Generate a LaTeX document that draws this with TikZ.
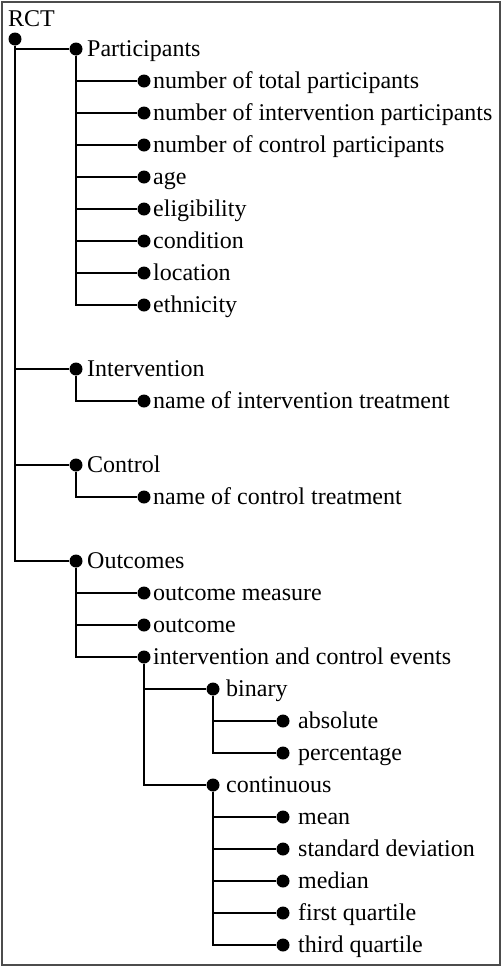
\documentclass[tikz,border=0pt]{standalone}
\usepackage{fontspec}
\setmainfont{Liberation Serif}
\usetikzlibrary{positioning}

\tikzset{
  dot/.style={circle, fill, inner sep=0pt, minimum size=13pt, on grid},
  lbl/.style={inner sep=0pt, anchor=base west, font=\fontsize{24}{28}\selectfont},
  txt/.style={lbl, yshift=-7pt},
  branch/.style={line width=2.8pt},
}

\begin{document}
\begin{tikzpicture}
\draw[gray!60!black, line width=2pt, fill=white] (2pt,-2pt) rectangle (500pt,-965pt);
\useasboundingbox (0,0) rectangle (502pt,-967pt);

% root
\node[dot] (root) at (15pt,-39pt) {};
\node[above left=13pt and 7pt of root.center, lbl] (rctL) {RCT};

% participants
\node[dot, below right=10pt and 61pt of root] (part) {};
\node[dot, below right=32pt and 68pt of part] (nTot) {};
\node[dot, below=32pt of nTot] (nInt) {};
\node[dot, below=32pt of nInt] (nCtl) {};
\node[dot, below=32pt of nCtl] (age) {};
\node[dot, below=32pt of age] (elig) {};
\node[dot, below=32pt of elig] (cond) {};
\node[dot, below=32pt of cond] (loc) {};
\node[dot, below=32pt of loc] (eth) {};
\node[right=11pt of part.center, txt] (partL) {Participants};
\node[right=9pt of nTot.center, txt] (nTotL) {number of total participants};
\node[right=9pt of nInt.center, txt] (nIntL) {number of intervention participants};
\node[right=9pt of nCtl.center, txt] (nCtlL) {number of control participants};
\node[right=9pt of age.center, txt] (ageL) {age};
\node[right=9pt of elig.center, txt] (eligL) {eligibility};
\node[right=9pt of cond.center, txt] (condL) {condition};
\node[right=9pt of loc.center, txt] (locL) {location};
\node[right=9pt of eth.center, txt] (ethL) {ethnicity};

% intervention and control
\node[dot, below left=64pt and 68pt of eth] (interv) {};
\node[dot, below right=32pt and 68pt of interv] (intName) {};
\node[dot, below left=64pt and 68pt of intName] (ctl) {};
\node[dot, below right=32pt and 68pt of ctl] (ctlName) {};
\node[right=11pt of interv.center, txt] (intervL) {Intervention};
\node[right=9pt of intName.center, txt] (intNameL) {name of intervention treatment};
\node[right=11pt of ctl.center, txt] (ctlL) {Control};
\node[right=9pt of ctlName.center, txt] (ctlNameL) {name of control treatment};

% outcomes
\node[dot, below left=64pt and 68pt of ctlName] (outc) {};
\node[dot, below right=32pt and 68pt of outc] (meas) {};
\node[dot, below=32pt of meas] (outcome) {};
\node[dot, below=32pt of outcome] (events) {};
\node[dot, below right=32pt and 69pt of events] (binary) {};
\node[dot, below right=32pt and 70pt of binary] (absol) {};
\node[dot, below=32pt of absol] (perc) {};
\node[dot, below left=32pt and 70pt of perc] (contin) {};
\node[dot, below right=32pt and 70pt of contin] (mean) {};
\node[dot, below=32pt of mean] (sd) {};
\node[dot, below=32pt of sd] (median) {};
\node[dot, below=32pt of median] (fq) {};
\node[dot, below=32pt of fq] (tq) {};
\node[right=11pt of outc.center, txt] (outcL) {Outcomes};
\node[right=9pt of meas.center, txt] (measL) {outcome measure};
\node[right=9pt of outcome.center, txt] (outcomeL) {outcome};
\node[right=9pt of events.center, txt] (eventsL) {intervention and control events};
\node[right=13pt of binary.center, txt] (binaryL) {binary};
\node[right=15pt of absol.center, txt] (absolL) {absolute};
\node[right=15pt of perc.center, txt] (percL) {percentage};
\node[right=13pt of contin.center, txt] (continL) {continuous};
\node[right=15pt of mean.center, txt] (meanL) {mean};
\node[right=15pt of sd.center, txt] (sdL) {standard deviation};
\node[right=15pt of median.center, txt] (medianL) {median};
\node[right=15pt of fq.center, txt] (fqL) {first quartile};
\node[right=15pt of tq.center, txt] (tqL) {third quartile};

% branches
\foreach \k in {part,interv,ctl,outc}
  \draw[branch] (root) |- (\k);
\foreach \k in {nTot,nInt,nCtl,age,elig,cond,loc,eth}
  \draw[branch] (part) |- (\k);
\draw[branch] (interv) |- (intName);
\draw[branch] (ctl) |- (ctlName);
\foreach \k in {meas,outcome,events}
  \draw[branch] (outc) |- (\k);
\foreach \k in {binary,contin}
  \draw[branch] (events) |- (\k);
\foreach \k in {absol,perc}
  \draw[branch] (binary) |- (\k);
\foreach \k in {mean,sd,median,fq,tq}
  \draw[branch] (contin) |- (\k);
\end{tikzpicture}
\end{document}
